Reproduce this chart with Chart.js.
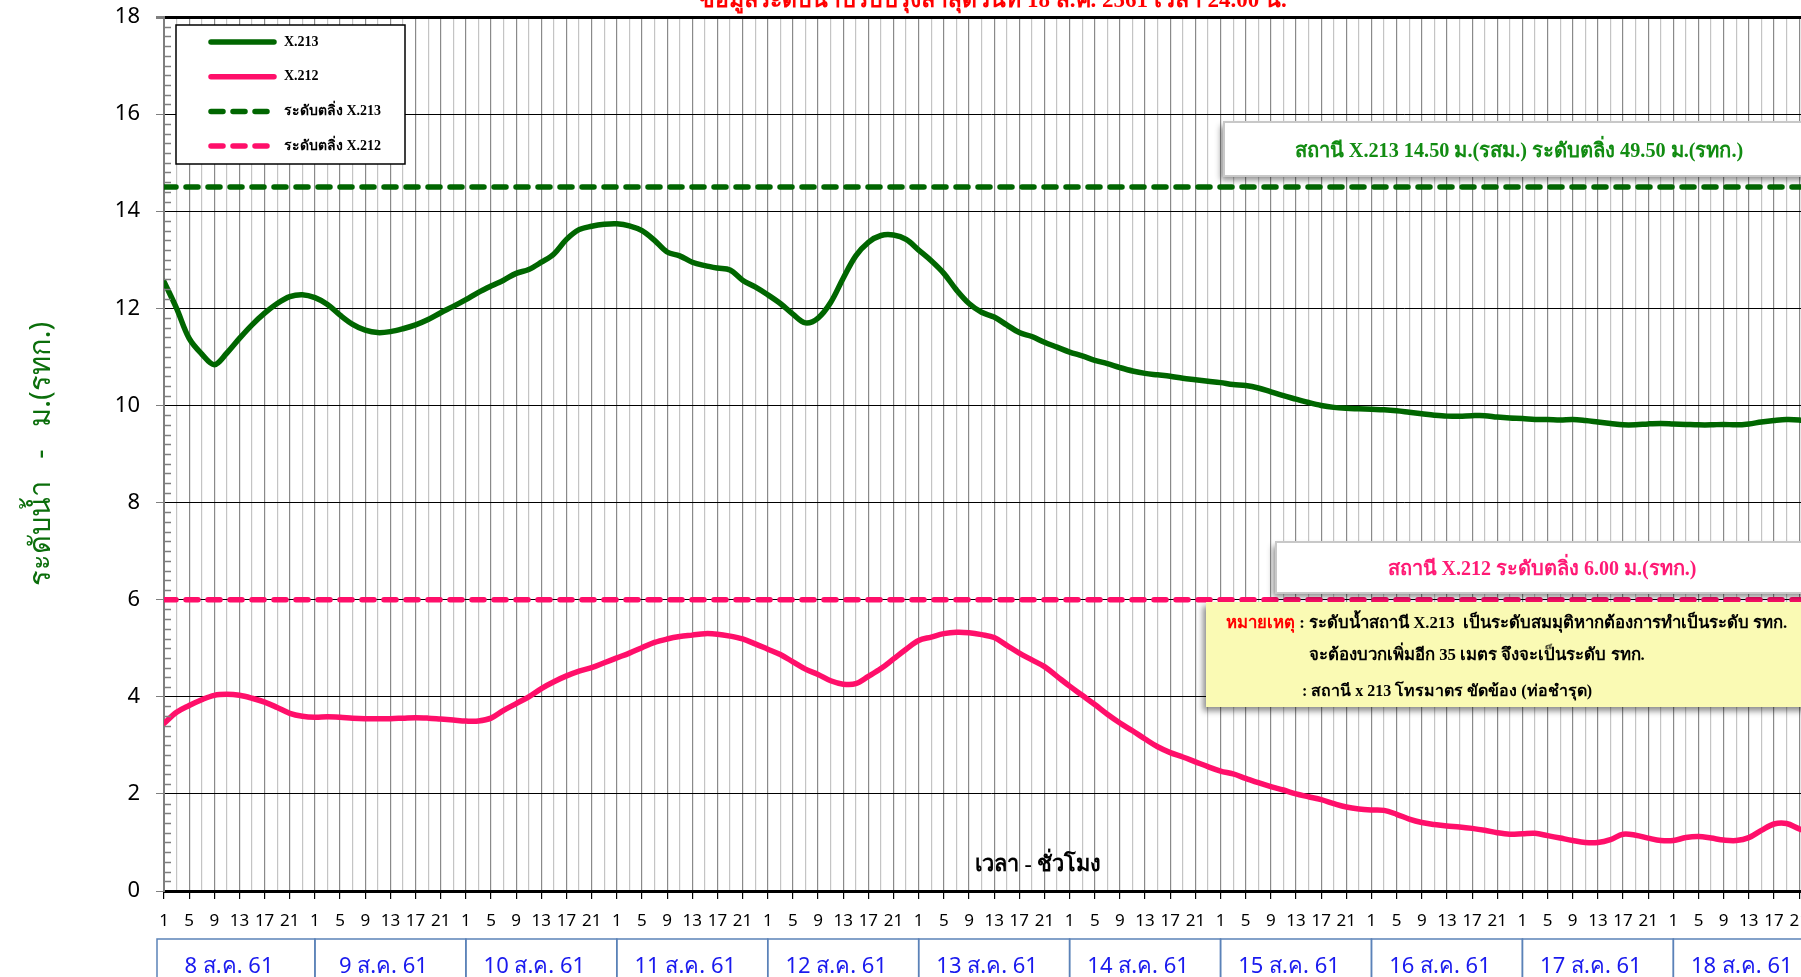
<!DOCTYPE html>
<html lang="th">
<head>
<meta charset="UTF-8">
<title>ระดับน้ำ X.213 / X.212</title>
<script src="https://cdn.jsdelivr.net/npm/chart.js"></script>
<style>
  html, body { margin: 0; padding: 0; background: #fff; overflow: hidden; }
  #wrap { width: 1850px; height: 977px; }
</style>
</head>
<body>
<div id="wrap"><canvas id="graficaNivel" width="1850" height="977"></canvas></div>
<script>
// ค่าระดับน้ำทุก 2 ชั่วโมง เริ่ม 8 ส.ค. 61 เวลา 01.00 น. (หนึ่งแถว = หนึ่งวัน)
const STEP_HOURS = 2;
const X_MAX = 263;

const dayLabels = ['8 ส.ค. 61', '9 ส.ค. 61', '10 ส.ค. 61', '11 ส.ค. 61', '12 ส.ค. 61', '13 ส.ค. 61',
                   '14 ส.ค. 61', '15 ส.ค. 61', '16 ส.ค. 61', '17 ส.ค. 61', '18 ส.ค. 61'];
const hourTickLabels = ['1', '5', '9', '13', '17', '21'];

const levelX213 = [
  12.55, 12.0, 11.38, 11.06, 10.84, 11.08, 11.38, 11.66, 11.9, 12.1, 12.24, 12.28,
  12.22, 12.08, 11.86, 11.67, 11.55, 11.5, 11.52, 11.58, 11.66, 11.77, 11.91, 12.04,
  12.18, 12.33, 12.46, 12.58, 12.72, 12.8, 12.95, 13.12, 13.42, 13.62, 13.69, 13.73,
  13.74, 13.7, 13.6, 13.4, 13.16, 13.08, 12.95, 12.88, 12.83, 12.79, 12.58, 12.44,
  12.28, 12.1, 11.88, 11.7, 11.8, 12.12, 12.62, 13.08, 13.36, 13.5, 13.51, 13.42,
  13.2, 12.98, 12.72, 12.38, 12.1, 11.92, 11.82, 11.66, 11.5, 11.42, 11.3, 11.2,
  11.1, 11.02, 10.93, 10.86, 10.78, 10.71, 10.66, 10.63, 10.6, 10.56, 10.53, 10.5,
  10.47, 10.43, 10.41, 10.36, 10.28, 10.2, 10.13, 10.06, 10.0, 9.96, 9.94, 9.93,
  9.92, 9.91, 9.89, 9.86, 9.83, 9.8, 9.78, 9.78, 9.79, 9.79, 9.76, 9.74,
  9.73, 9.71, 9.71, 9.7, 9.71, 9.69, 9.66, 9.63, 9.6, 9.6, 9.62, 9.63,
  9.62, 9.61, 9.6, 9.6, 9.61, 9.6, 9.62, 9.66, 9.69, 9.71, 9.7, 9.66
];

const levelX212 = [
  3.45, 3.68, 3.82, 3.94, 4.03, 4.05, 4.03, 3.97, 3.89, 3.78, 3.66, 3.6,
  3.58, 3.59, 3.58, 3.56, 3.55, 3.55, 3.55, 3.56, 3.57, 3.56, 3.54, 3.52,
  3.5, 3.5, 3.56, 3.72, 3.86, 4.0, 4.17, 4.31, 4.43, 4.53, 4.6, 4.7,
  4.8, 4.9, 5.01, 5.12, 5.19, 5.24, 5.27, 5.3, 5.29, 5.25, 5.19, 5.09,
  4.98, 4.87, 4.72, 4.57, 4.46, 4.33, 4.26, 4.27, 4.42, 4.58, 4.78, 4.98,
  5.16, 5.23, 5.3, 5.33, 5.32, 5.28, 5.22, 5.06, 4.9, 4.76, 4.62, 4.42,
  4.22, 4.03, 3.84, 3.64, 3.46, 3.3, 3.13, 2.97, 2.85, 2.76, 2.66, 2.56,
  2.47, 2.41, 2.32, 2.23, 2.15, 2.08, 2.0, 1.94, 1.88, 1.8, 1.73, 1.69,
  1.67, 1.66, 1.58, 1.48, 1.41, 1.37, 1.34, 1.32, 1.29, 1.25, 1.2, 1.17,
  1.18, 1.19, 1.14, 1.09, 1.04, 1.0, 1.0, 1.06, 1.17, 1.15, 1.09, 1.04,
  1.04, 1.1, 1.12, 1.09, 1.05, 1.04, 1.1, 1.25, 1.38, 1.39, 1.28, 1.2
];

const bankLevels = [14.5, 6.0]; // ระดับตลิ่ง X.213, X.212

const titulo = 'ข้อมูลระดับน้ำปรับปรุงล่าสุดวันที่ 18 ส.ค. 2561 เวลา 24.00 น.';
const notaX213 = 'สถานี X.213 14.50 ม.(รสม.) ระดับตลิ่ง 49.50 ม.(รทก.)';
const notaX212 = 'สถานี X.212 ระดับตลิ่ง 6.00 ม.(รทก.)';
const notaRojo = 'หมายเหตุ';
const notaLineas = [
  ' : ระดับน้ำสถานี X.213  เป็นระดับสมมุติหากต้องการทำเป็นระดับ รทก.',
  'จะต้องบวกเพิ่มอีก 35 เมตร จึงจะเป็นระดับ รทก.',
  ': สถานี x 213 โทรมาตร ขัดข้อง (ท่อชำรุด)'
];

const VERDE = '#006600';
const ROSA = '#ff0f6a';
const fuenteSans = "'Noto Sans', 'DejaVu Sans', sans-serif";
const fuenteSerif = "'Liberation Serif', 'DejaVu Serif', serif";

const puntos = (arr) => arr.map((v, i) => ({ x: i * STEP_HOURS, y: v }));

// ajusta el tamaño de la fuente al ancho que ocupa en la referencia
function ajustarFuente(ctx, texto, ancho, peso, familia, maximo) {
  ctx.font = `${peso} ${maximo}px ${familia}`;
  const w = ctx.measureText(texto).width;
  let size = maximo * ancho / w;
  size = Math.max(maximo * 0.6, Math.min(maximo, size));
  ctx.font = `${peso} ${size}px ${familia}`;
  return size;
}

function caja(ctx, x, y, w, h, fondo, borde, sombra) {
  ctx.save();
  if (sombra) {
    ctx.shadowColor = 'rgba(0,0,0,0.45)';
    ctx.shadowBlur = 6;
    ctx.shadowOffsetX = -3;
    ctx.shadowOffsetY = 4;
  }
  ctx.fillStyle = fondo;
  ctx.fillRect(x, y, w, h);
  ctx.restore();
  if (borde) {
    ctx.strokeStyle = borde;
    ctx.lineWidth = 2;
    ctx.strokeRect(x, y, w, h);
  }
}

// cuadros de texto sobre la gráfica
const notasPlugin = {
  id: 'notas',
  afterDatasetsDraw(chart) {
    const { ctx, chartArea: a } = chart;
    ctx.save();
    ctx.textBaseline = 'middle';

    caja(ctx, a.left + 1060, a.top + 105, 700, 54, '#ffffff', '#c8c8c8', true);
    ctx.fillStyle = '#128c12';
    ctx.textAlign = 'center';
    ajustarFuente(ctx, notaX213, 450, 'bold', fuenteSerif, 23);
    ctx.fillText(notaX213, a.left + 1355, a.top + 135);

    caja(ctx, a.left + 1112, a.top + 525, 700, 51, '#ffffff', '#c8c8c8', true);
    ctx.fillStyle = '#ff1a75';
    ajustarFuente(ctx, notaX212, 308, 'bold', fuenteSerif, 23);
    ctx.fillText(notaX212, a.left + 1378, a.top + 553);

    caja(ctx, a.left + 1042, a.top + 585, 700, 105, '#fafab4', null, true);
    ctx.textAlign = 'left';
    ajustarFuente(ctx, notaRojo + notaLineas[0], 566, 'bold', fuenteSerif, 19);
    ctx.fillStyle = '#ff0000';
    ctx.fillText(notaRojo, a.left + 1062, a.top + 607);
    const wr = ctx.measureText(notaRojo).width;
    ctx.fillStyle = '#000';
    ctx.fillText(notaLineas[0], a.left + 1062 + wr, a.top + 607);
    ajustarFuente(ctx, notaLineas[1], 334, 'bold', fuenteSerif, 19);
    ctx.fillText(notaLineas[1], a.left + 1145, a.top + 639);
    ajustarFuente(ctx, notaLineas[2], 287, 'bold', fuenteSerif, 19);
    ctx.fillText(notaLineas[2], a.left + 1138, a.top + 675);
    ctx.restore();
  },
  afterDraw(chart) {
    const { ctx, chartArea: a, scales: { x, y } } = chart;
    ctx.save();

    // marcas menores del eje Y (cada 0.2 m) hacia dentro
    ctx.strokeStyle = '#7f7f7f';
    ctx.lineWidth = 1.5;
    for (let i = 1; i < 90; i++) {
      if (i % 10 === 0) continue;
      const py = Math.round(y.getPixelForValue(i * 0.2)) + 0.5;
      ctx.beginPath();
      ctx.moveTo(a.left, py);
      ctx.lineTo(a.left + 7, py);
      ctx.stroke();
    }

    // título (cortado por el borde superior como en la imagen)
    ctx.fillStyle = '#ff0000';
    ctx.textAlign = 'center';
    ctx.textBaseline = 'alphabetic';
    ajustarFuente(ctx, titulo, 587, 'bold', fuenteSerif, 30);
    ctx.fillText(titulo, a.left + 829, 7);

    // título del eje X dentro del área
    ctx.fillStyle = '#000';
    ctx.textBaseline = 'middle';
    ajustarFuente(ctx, 'เวลา - ชั่วโมง', 127, 'bold', fuenteSerif, 27);
    ctx.fillText('เวลา - ชั่วโมง', x.getPixelForValue(139), a.bottom - 26);

    // cajas de los días
    ctx.strokeStyle = '#5b82b8';
    ctx.lineWidth = 1.5;
    ctx.font = `22px ${fuenteSans}`;
    const top = a.bottom + 48;
    dayLabels.forEach((lab, k) => {
      const x0 = k === 0 ? a.left - 7 : x.getPixelForValue(24 * k);
      const x1 = x.getPixelForValue(24 * (k + 1));
      ctx.strokeRect(x0, top, x1 - x0, 60);
      ctx.fillStyle = '#1a1aee';
      ctx.fillText(lab, (x0 + x1) / 2 - 7, a.bottom + 76);
    });

    // leyenda
    const lx = a.left + 12, ly = a.top + 8;
    ctx.fillStyle = '#fff';
    ctx.fillRect(lx, ly, 229, 139);
    ctx.strokeStyle = '#000';
    ctx.lineWidth = 1.5;
    ctx.strokeRect(lx, ly, 229, 139);
    chart.data.datasets.forEach((ds, i) => {
      const ry = ly + 17 + i * 34.7;
      ctx.save();
      ctx.strokeStyle = ds.borderColor;
      ctx.lineWidth = ds.borderWidth;
      ctx.lineCap = 'round';
      ctx.setLineDash(ds.borderDash || []);
      ctx.beginPath();
      ctx.moveTo(lx + 35, ry);
      ctx.lineTo(lx + 98, ry);
      ctx.stroke();
      ctx.restore();
      ctx.fillStyle = '#000';
      ctx.textAlign = 'left';
      ctx.font = `bold 14px ${fuenteSerif}`;
      ctx.fillText(ds.label, lx + 108, ry);
    });
    ctx.restore();
  }
};

const ctxNivel = document.getElementById('graficaNivel').getContext('2d');

const graficaNivel = new Chart(ctxNivel, {
  type: 'line',
  data: {
    datasets: [
      { label: 'X.213', data: puntos(levelX213), borderColor: VERDE, borderWidth: 5.5,
        tension: 0.35, pointRadius: 0, borderCapStyle: 'round' },
      { label: 'X.212', data: puntos(levelX212), borderColor: ROSA, borderWidth: 5.5,
        tension: 0.35, pointRadius: 0, borderCapStyle: 'round' },
      { label: 'ระดับตลิ่ง X.213', data: [{ x: 0, y: bankLevels[0] }, { x: X_MAX, y: bankLevels[0] }],
        borderColor: VERDE, borderWidth: 5.5, borderDash: [12, 10], borderCapStyle: 'round', pointRadius: 0 },
      { label: 'ระดับตลิ่ง X.212', data: [{ x: 0, y: bankLevels[1] }, { x: X_MAX, y: bankLevels[1] }],
        borderColor: ROSA, borderWidth: 5.5, borderDash: [12, 10], borderCapStyle: 'round', pointRadius: 0 }
    ]
  },
  options: {
    responsive: false,
    animation: false,
    layout: { padding: { left: 0, top: 17, right: 32, bottom: 0 } },
    plugins: { legend: { display: false }, tooltip: { enabled: false } },
    scales: {
      x: {
        type: 'linear',
        min: 0,
        max: X_MAX,
        afterFit: (s) => { s.height = 86; s.paddingLeft = 0; s.paddingRight = 0; },
        border: { color: '#000', width: 3 },
        grid: {
          color: (c) => (c.tick.value % 4 === 0 ? '#8a8a8a' : '#c4c4c4'),
          lineWidth: 1.2,
          tickLength: 8,
          tickColor: (c) => (c.tick.value % 4 === 0 ? '#000' : 'rgba(0,0,0,0)'),
          tickWidth: 1.2
        },
        ticks: {
          stepSize: 2,
          includeBounds: false,
          autoSkip: false,
          maxRotation: 0,
          minRotation: 0,
          padding: 12,
          color: '#000',
          font: { family: fuenteSans, size: 17 },
          callback: (v) => (v % 4 === 0 ? hourTickLabels[(v % 24) / 4] : '')
        }
      },
      y: {
        min: 0,
        max: 18,
        afterFit: (s) => { s.width = 164; s.paddingTop = 0; s.paddingBottom = 0; },
        border: { color: '#7f7f7f', width: 2 },
        grid: {
          color: '#000',
          lineWidth: (c) => (c.tick.value === 18 ? 3 : 1),
          tickLength: 8,
          tickColor: '#7f7f7f'
        },
        ticks: { stepSize: 2, padding: 16, color: '#000', font: { family: fuenteSans, size: 22 } },
        title: {
          display: true,
          text: 'ระดับน้ำ   -   ม.(รทก.)',
          color: '#0b6e0b',
          font: { family: fuenteSans, size: 29 },
          padding: { top: 24, bottom: 0 }
        }
      }
    }
  },
  plugins: [notasPlugin]
});
</script>
</body>
</html>
